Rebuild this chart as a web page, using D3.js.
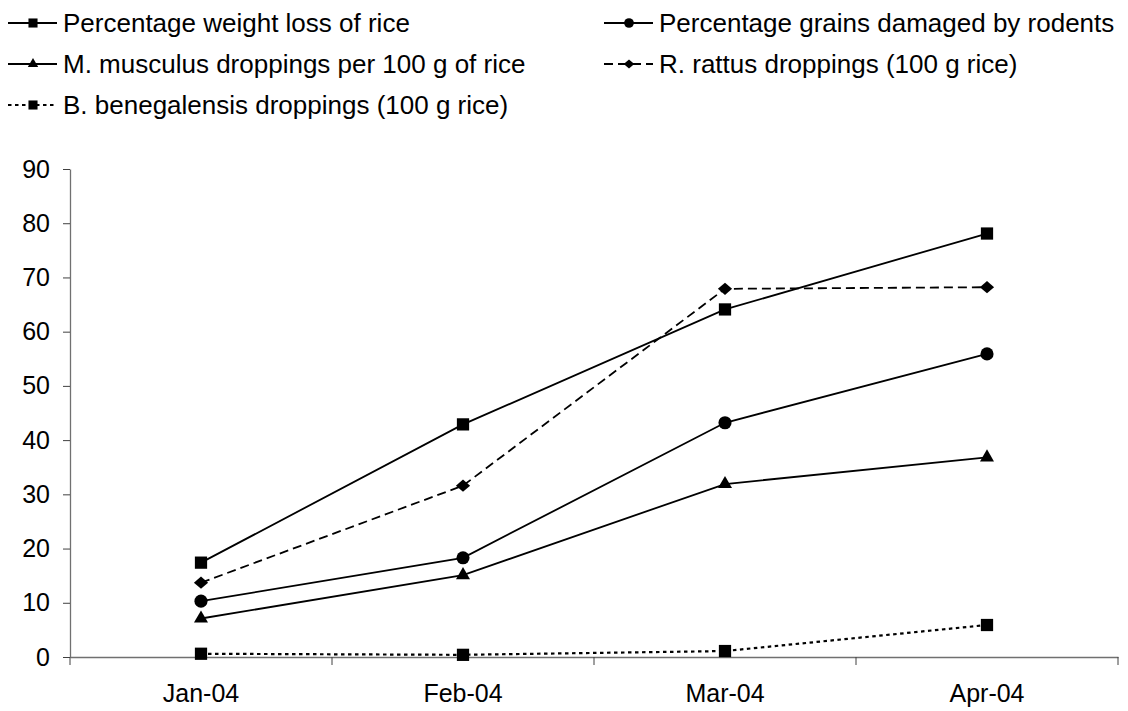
<!DOCTYPE html>
<html>
<head>
<meta charset="utf-8">
<script src="https://cdn.jsdelivr.net/npm/d3@7"></script>
<style>
  body { margin: 0; background: #fff; }
  svg { display: block; font-family: "Liberation Sans", Arial, sans-serif; }
</style>
</head>
<body>
<svg id="chart" width="1128" height="711"></svg>
<script>
// data
const months = ["Jan-04", "Feb-04", "Mar-04", "Apr-04"];
const weightLoss = [17.4, 42.9, 64.1, 78.1];
const grainsDamaged = [10.3, 18.3, 43.2, 55.9];
const musculus = [7.1, 15.1, 31.9, 36.8];
const rattus = [13.7, 31.6, 67.9, 68.2];
const benegalensis = [0.6, 0.4, 1.1, 5.9];
const yTicks = [0, 10, 20, 30, 40, 50, 60, 70, 80, 90];

const diamond = {
  draw(ctx, size) {
    const w = Math.sqrt(size) * 0.58, h = Math.sqrt(size) * 0.5;
    ctx.moveTo(0, -h); ctx.lineTo(w, 0); ctx.lineTo(0, h); ctx.lineTo(-w, 0); ctx.closePath();
  }
};

const series = [
  { name: "Percentage weight loss of rice", values: weightLoss, symbol: d3.symbolSquare, size: 150, dash: null, col: 0, row: 0 },
  { name: "Percentage grains damaged by rodents", values: grainsDamaged, symbol: d3.symbolCircle, size: 135, dash: null, col: 1, row: 0 },
  { name: "M. musculus droppings per 100 g of rice", values: musculus, symbol: d3.symbolTriangle, size: 85, dash: null, col: 0, row: 1 },
  { name: "R. rattus droppings (100 g rice)", values: rattus, symbol: diamond, size: 150, dash: "9,5", col: 1, row: 1 },
  { name: "B. benegalensis droppings (100 g rice)", values: benegalensis, symbol: d3.symbolSquare, size: 150, dash: "3.5,3.5", col: 0, row: 2 }
];

const svg = d3.select("#chart");
const plot = { left: 70, right: 1118, top: 169, bottom: 657 };

const x = d3.scaleBand().domain(months).range([plot.left, plot.right]);
const y = d3.scaleLinear().domain([0, 90]).range([plot.bottom, plot.top]);
const cx = d => x(d) + x.bandwidth() / 2;

// y axis
const yAxis = svg.append("g")
  .attr("transform", `translate(${plot.left},0)`)
  .call(d3.axisLeft(y).tickValues(yTicks).tickSize(7).tickPadding(13).tickSizeOuter(0));
yAxis.select(".domain").attr("stroke", "#707070").attr("stroke-width", 1.3);
yAxis.selectAll(".tick line").attr("stroke", "#404040");
yAxis.selectAll(".tick text").attr("font-size", 25).attr("fill", "#000")
  .attr("font-family", "Liberation Sans, Arial, sans-serif");

// x axis: labels centred, ticks at category boundaries
const xAxis = svg.append("g")
  .attr("transform", `translate(0,${plot.bottom})`)
  .call(d3.axisBottom(x).tickSize(0).tickPadding(27).tickSizeOuter(0));
xAxis.select(".domain").attr("stroke", "#707070").attr("stroke-width", 1.3);
xAxis.selectAll(".tick text").attr("font-size", 25).attr("fill", "#000")
  .attr("font-family", "Liberation Sans, Arial, sans-serif");
const edges = months.map(m => x(m)).concat([x(months[months.length - 1]) + x.bandwidth()]);
xAxis.selectAll(".edge").data(edges).join("line")
  .attr("class", "edge")
  .attr("x1", d => d).attr("x2", d => d)
  .attr("y1", 0).attr("y2", 8)
  .attr("stroke", "#404040");

// lines and markers
const line = d3.line().x((d, i) => cx(months[i])).y(d => y(d));
series.forEach(s => {
  svg.append("path")
    .datum(s.values)
    .attr("d", line)
    .attr("fill", "none")
    .attr("stroke", "#000")
    .attr("stroke-width", s.dash === "3.5,3.5" ? 2.2 : 1.8)
    .attr("stroke-dasharray", s.dash);
  svg.append("g").selectAll("path")
    .data(s.values)
    .join("path")
    .attr("transform", (d, i) => `translate(${cx(months[i])},${y(d)})`)
    .attr("d", d3.symbol().type(s.symbol).size(s.size))
    .attr("fill", "#000");
});

// legend
const colX = [8, 604], rowY = [23, 64, 105];
series.forEach(s => {
  const g = svg.append("g").attr("transform", `translate(${colX[s.col]},${rowY[s.row]})`);
  g.append("line")
    .attr("x1", 0).attr("x2", 49).attr("y1", 0).attr("y2", 0)
    .attr("stroke", "#000")
    .attr("stroke-width", s.dash === "3.5,3.5" ? 2.2 : 1.8)
    .attr("stroke-dasharray", s.dash);
  g.append("path")
    .attr("transform", "translate(25,0)")
    .attr("d", d3.symbol().type(s.symbol).size(s.size * 0.55))
    .attr("fill", "#000");
  g.append("text")
    .attr("x", 55).attr("y", 9)
    .attr("font-size", 26)
    .text(s.name);
});
</script>
</body>
</html>
